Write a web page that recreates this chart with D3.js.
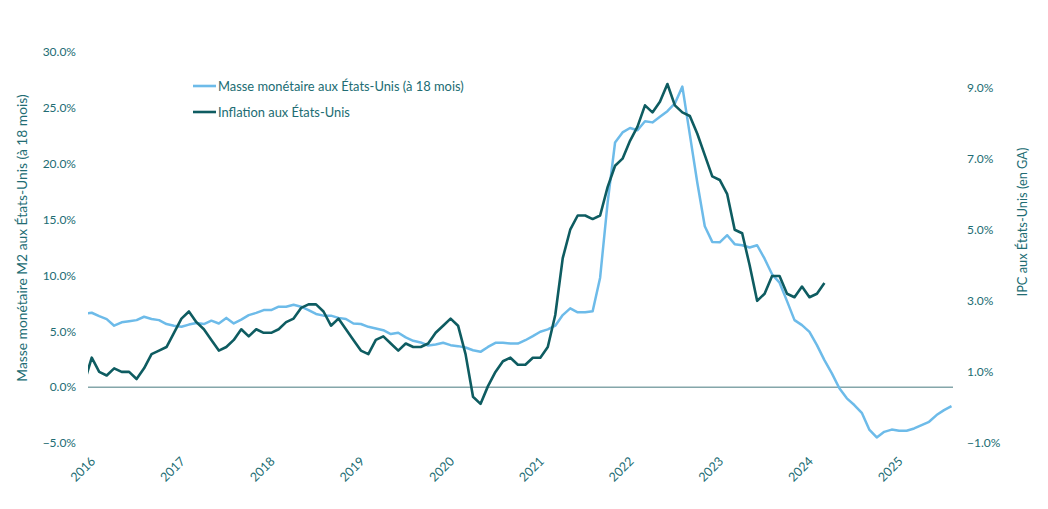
<!DOCTYPE html>
<html>
<head>
<meta charset="utf-8">
<script src="https://cdn.jsdelivr.net/npm/d3@7"></script>
<style>
  html, body { margin: 0; padding: 0; background: #ffffff; }
  svg { display: block; font-family: Lato, "Open Sans", sans-serif; }
</style>
</head>
<body>
<svg id="chart" width="1048" height="509"></svg>
<script>
// ---- Data (monthly, first value = Dec 2015) ----
const startYear = 2015, startMonth = 11; // Dec 2015 (0-based month)
const m2Values = [
  6.55,
  6.66, 6.36, 6.09, 5.5, 5.8, 5.9, 6.0, 6.3, 6.1, 6.0, 5.65, 5.5,
  5.4, 5.6, 5.75, 5.65, 5.95, 5.7, 6.2, 5.7, 6.05, 6.45, 6.65, 6.9,
  6.9, 7.2, 7.2, 7.37, 7.2, 6.9, 6.55, 6.4, 6.4, 6.2, 6.1, 5.7,
  5.65, 5.4, 5.25, 5.1, 4.75, 4.87, 4.45, 4.15, 4.0, 3.73, 3.82, 3.97,
  3.76, 3.67, 3.55, 3.3, 3.16, 3.6, 3.97, 3.97, 3.9, 3.9, 4.2, 4.57,
  4.96, 5.17, 5.5, 6.45, 7.05, 6.7, 6.7, 6.8, 9.8, 16.5, 21.9, 22.8,
  23.2, 23.0, 23.8, 23.7, 24.2, 24.7, 25.4, 26.9, 22.6, 18.3, 14.4, 13.0,
  12.96, 13.6, 12.8, 12.7, 12.5, 12.7, 11.5, 10.1, 9.35, 7.7, 6.0, 5.55,
  4.95, 3.76, 2.42, 1.23, -0.1, -1.0, -1.6, -2.3, -3.8, -4.5, -4.0, -3.8,
  -3.9, -3.9, -3.7, -3.4, -3.1, -2.5, -2.06, -1.7
];
const cpiValues = [
  0.7,
  1.4, 1.0, 0.9, 1.1, 1.0, 1.0, 0.8, 1.1, 1.5, 1.6, 1.7, 2.1,
  2.5, 2.7, 2.4, 2.2, 1.9, 1.6, 1.7, 1.9, 2.2, 2.0, 2.2, 2.1,
  2.1, 2.2, 2.4, 2.5, 2.8, 2.9, 2.9, 2.7, 2.3, 2.5, 2.2, 1.9,
  1.6, 1.5, 1.9, 2.0, 1.8, 1.6, 1.8, 1.7, 1.7, 1.8, 2.1, 2.3,
  2.5, 2.3, 1.5, 0.3, 0.1, 0.6, 1.0, 1.3, 1.4, 1.2, 1.2, 1.4,
  1.4, 1.7, 2.6, 4.2, 5.0, 5.4, 5.4, 5.3, 5.4, 6.2, 6.8, 7.0,
  7.5, 7.9, 8.5, 8.3, 8.6, 9.1, 8.5, 8.3, 8.2, 7.7, 7.1, 6.5,
  6.4, 6.0, 5.0, 4.9, 4.0, 3.0, 3.2, 3.7, 3.7, 3.2, 3.1, 3.4,
  3.1, 3.2, 3.5
];
const yearLabels = ["2016","2017","2018","2019","2020","2021","2022","2023","2024","2025"];
const leftTicks = [-5, 0, 5, 10, 15, 20, 25, 30];
const rightTicks = [-1, 1, 3, 5, 7, 9];
const seriesNames = ["Masse monétaire aux États-Unis (à 18 mois)", "Inflation aux États-Unis"];
const leftTitle = "Masse monétaire M2 aux États-Unis (à 18 mois)";
const rightTitle = "IPC aux États-Unis (en GA)";

// month index relative to Jan 2016
const offset = (startYear - 2016) * 12 + startMonth; // -1
const m2 = m2Values.map((v, i) => ({ m: i + offset, v }));
const cpi = cpiValues.map((v, i) => ({ m: i + offset, v }));

// ---- Layout ----
const plot = { left: 88, right: 953, top: 52, bottom: 443 };
const textColor = "#216c73";
const lightBlue = "#6dbbe9";
const darkTeal = "#0e5c61";

const svg = d3.select("#chart");

const x = d3.scaleLinear().domain([-0.5, 115.2]).range([plot.left, plot.right]);
const yL = d3.scaleLinear().domain([-5, 30]).range([plot.bottom, plot.top]);
const yR = d3.scaleLinear().domain([-1, 10]).range([plot.bottom, plot.top]);

svg.append("defs").append("clipPath").attr("id", "clip")
  .append("rect")
  .attr("x", plot.left).attr("y", 0)
  .attr("width", plot.right - plot.left).attr("height", 509);

// Left axis
const leftAxis = d3.axisLeft(yL).tickValues(leftTicks).tickSize(0).tickPadding(0)
  .tickFormat(d => d3.format(".1f")(d) + "%");
const gL = svg.append("g").attr("transform", "translate(76,0)").call(leftAxis);
gL.select(".domain").remove();
gL.selectAll("text").attr("fill", textColor).style("font-size", "12px").style("font-family", "Lato, sans-serif");

// Right axis
const rightAxis = d3.axisRight(yR).tickValues(rightTicks).tickSize(0).tickPadding(0)
  .tickFormat(d => d3.format(".1f")(d) + "%");
const gR = svg.append("g").attr("transform", "translate(967,0)").call(rightAxis);
gR.select(".domain").remove();
gR.selectAll("text").attr("fill", textColor).style("font-size", "12px").style("font-family", "Lato, sans-serif");

// X axis labels (rotated)
const xAxis = d3.axisBottom(x)
  .tickValues(yearLabels.map((d, i) => i * 12))
  .tickSize(0).tickPadding(0)
  .tickFormat((d, i) => yearLabels[i]);
const gX = svg.append("g").attr("transform", "translate(0,0)").call(xAxis);
gX.select(".domain").remove();
gX.selectAll(".tick text")
  .attr("fill", textColor)
  .style("font-size", "12.5px").style("font-family", "Lato, sans-serif")
  .attr("text-anchor", "end")
  .attr("dy", null).attr("y", null)
  .attr("transform", "translate(4,462) rotate(-45)");

// Zero line
svg.append("line")
  .attr("x1", plot.left).attr("x2", plot.right)
  .attr("y1", yL(0)).attr("y2", yL(0))
  .attr("stroke", "#84a6aa").attr("stroke-width", 1.5);

// Lines
const lineL = d3.line().x(d => x(d.m)).y(d => yL(d.v));
const lineR = d3.line().x(d => x(d.m)).y(d => yR(d.v));
const gLines = svg.append("g").attr("clip-path", "url(#clip)");
gLines.append("path").datum(m2).attr("d", lineL)
  .attr("fill", "none").attr("stroke", lightBlue).attr("stroke-width", 2.5)
  .attr("stroke-linejoin", "round");
gLines.append("path").datum(cpi).attr("d", lineR)
  .attr("fill", "none").attr("stroke", darkTeal).attr("stroke-width", 2.6)
  .attr("stroke-linejoin", "round");

// Axis titles
svg.append("text")
  .attr("transform", "translate(27,238) rotate(-90)")
  .attr("text-anchor", "middle")
  .attr("fill", textColor).style("font-size", "13.8px")
  .text(leftTitle);
svg.append("text")
  .attr("transform", "translate(1027,222) rotate(-90)")
  .attr("text-anchor", "middle")
  .attr("fill", textColor).style("font-size", "12.8px")
  .text(rightTitle);

// Legend
const legend = svg.append("g");
[lightBlue, darkTeal].forEach((c, i) => {
  const ly = 86 + i * 26;
  legend.append("line").attr("x1", 193).attr("x2", 216).attr("y1", ly).attr("y2", ly)
    .attr("stroke", c).attr("stroke-width", 2.6);
  legend.append("text").attr("x", 218).attr("y", ly).attr("dy", "0.35em")
    .attr("fill", textColor).style("font-size", "12.9px").text(seriesNames[i]);
});
</script>
</body>
</html>
